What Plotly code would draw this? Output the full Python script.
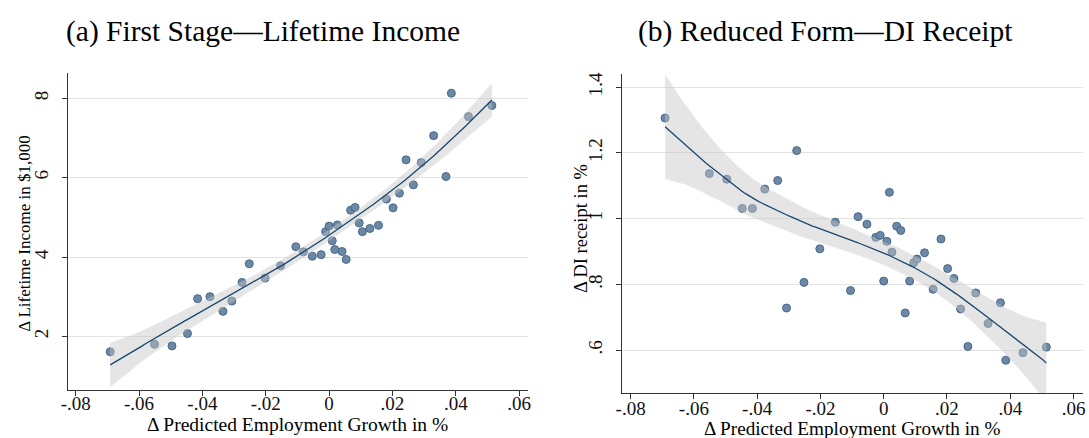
import numpy as np
import plotly.graph_objects as go

# ---------------- data (binned scatter) ----------------
emp_growth = [-0.0691, -0.0551, -0.0496, -0.0447, -0.0415, -0.0376, -0.0335, -0.0307,
              -0.0275, -0.0252, -0.0202, -0.0153, -0.0105, -0.0081, -0.0053, -0.0025,
              -0.0011, 0.0000, 0.0010, 0.0018, 0.0026, 0.0041, 0.0054, 0.0068,
              0.0082, 0.0095, 0.0105, 0.0129, 0.0156, 0.0181, 0.0202, 0.0222,
              0.0243, 0.0266, 0.0291, 0.0330, 0.0369, 0.0386, 0.0440, 0.0514]

lifetime_income = [1.61, 1.80, 1.76, 2.07, 2.95, 3.00, 2.63, 2.89,
                   3.36, 3.83, 3.47, 3.78, 4.26, 4.13, 4.02, 4.06,
                   4.64, 4.78, 4.41, 4.19, 4.81, 4.14, 3.94, 5.18,
                   5.25, 4.86, 4.64, 4.72, 4.80, 5.46, 5.24, 5.61,
                   6.45, 5.82, 6.38, 7.06, 6.03, 8.13, 7.54, 7.82]

di_receipt = [1.306, 1.137, 1.120, 1.031, 1.031, 1.090, 1.116, 0.728,
              1.207, 0.806, 0.908, 0.989, 0.781, 1.006, 0.983, 0.943,
              0.949, 0.810, 0.931, 1.080, 0.898, 0.977, 0.964, 0.713,
              0.810, 0.866, 0.877, 0.896, 0.785, 0.938, 0.848, 0.818,
              0.725, 0.611, 0.774, 0.681, 0.744, 0.569, 0.592, 0.609]

x_ticks = [-0.08, -0.06, -0.04, -0.02, 0, 0.02, 0.04, 0.06]
x_tick_labels = ["-.08", "-.06", "-.04", "-.02", "0", ".02", ".04", ".06"]
y1_ticks = [2, 4, 6, 8]
y1_tick_labels = ["2", "4", "6", "8"]
y2_ticks = [0.6, 0.8, 1.0, 1.2, 1.4]
y2_tick_labels = [".6", ".8", "1", "1.2", "1.4"]

titles = ["(a) First Stage\u2014Lifetime Income", "(b) Reduced Form\u2014DI Receipt"]
x_title = "\u0394 Predicted Employment Growth in %"
y1_title = "\u0394 Lifetime Income in $1,000"
y2_title = "\u0394 DI receipt in %"


# ---------------- local linear smoother with CI ----------------
def local_linear(x, y, h, n_grid=120):
    x = np.asarray(x, float)
    y = np.asarray(y, float)

    def weights_row(x0):
        u = (x - x0) / h
        w = np.where(np.abs(u) < 1, 0.75 * (1 - u ** 2), 0.0)
        X = np.column_stack([np.ones_like(x), x - x0])
        XtW = X.T * w
        A = XtW @ X
        return np.linalg.solve(A, XtW)[0]

    L = np.array([weights_row(v) for v in x])
    resid = y - L @ y
    dof = len(x) - 2 * np.trace(L) + np.trace(L.T @ L)
    sigma2 = np.sum(resid ** 2) / dof
    grid = np.linspace(x.min(), x.max(), n_grid)
    fit, se = [], []
    for g in grid:
        l = weights_row(g)
        fit.append(l @ y)
        se.append(np.sqrt(sigma2 * np.sum(l ** 2)))
    fit = np.array(fit)
    se = np.array(se)
    return grid, fit, fit - 1.96 * se, fit + 1.96 * se


FONT = "Liberation Serif"
MARK_FILL = "#6d88a5"
MARK_LINE = "#47688a"
BAND = "rgba(198,198,198,0.45)"
LINE = "#1a476f"

fig = go.Figure()

panels = [(lifetime_income, "x", "y", 0.065), (di_receipt, "x2", "y2", 0.045)]
for yv, xa, ya, h in panels:
    fig.add_trace(go.Scatter(x=emp_growth, y=yv, mode="markers", xaxis=xa, yaxis=ya,
                             marker=dict(size=8, color=MARK_FILL,
                                         line=dict(color=MARK_LINE, width=1)),
                             showlegend=False, hoverinfo="skip"))
    g, f, lo, hi = local_linear(emp_growth, yv, h)
    fig.add_trace(go.Scatter(x=np.concatenate([g, g[::-1]]), y=np.concatenate([hi, lo[::-1]]),
                             mode="lines", fill="toself", fillcolor=BAND,
                             line=dict(width=0), xaxis=xa, yaxis=ya,
                             showlegend=False, hoverinfo="skip"))
    fig.add_trace(go.Scatter(x=g, y=f, mode="lines", xaxis=xa, yaxis=ya,
                             line=dict(color=LINE, width=1.3),
                             showlegend=False, hoverinfo="skip"))

W, H = 1089, 438

def px_x(p):
    return p / W

def px_y(p):
    return 1 - p / H

def axis_common():
    return dict(showline=True, linecolor="#333333", linewidth=1,
                ticks="outside", ticklen=5, tickcolor="#333333", tickwidth=1,
                tickfont=dict(family=FONT, size=19, color="#111111"),
                zeroline=False)

fig.update_layout(
    width=W, height=H,
    margin=dict(l=0, r=0, t=0, b=0),
    paper_bgcolor="white", plot_bgcolor="white",
    font=dict(family=FONT, color="#111111"),
    xaxis=dict(domain=[px_x(61), px_x(525)], anchor="y", range=[-0.0823, 0.0627],
               tickvals=x_ticks, ticktext=x_tick_labels, showgrid=False,
               ticklabelstandoff=-8, **axis_common()),
    yaxis=dict(domain=[px_y(389.3), px_y(71.7)], anchor="x", range=[0.66, 8.63],
               tickvals=y1_ticks, ticktext=y1_tick_labels, tickangle=-90,
               ticklabelstandoff=7,
               showgrid=True, gridcolor="#e3e3e3", gridwidth=1, **axis_common()),
    xaxis2=dict(domain=[px_x(620), px_x(1086)], anchor="y2", range=[-0.0828, 0.063],
                tickvals=x_ticks, ticktext=x_tick_labels, showgrid=False,
                ticklabelstandoff=-7, **axis_common()),
    yaxis2=dict(domain=[px_y(392.7), px_y(72.7)], anchor="x2", range=[0.4697, 1.439],
                tickvals=y2_ticks, ticktext=y2_tick_labels, tickangle=-90,
                ticklabelstandoff=6,
                showgrid=True, gridcolor="#e3e3e3", gridwidth=1, **axis_common()),
)

def text_ann(text, xp, yp, size, angle=0):
    return dict(text=text, x=px_x(xp), y=px_y(yp), xref="paper", yref="paper",
                showarrow=False, xanchor="center", yanchor="middle", textangle=angle,
                font=dict(family=FONT, size=size, color="#000000"))

ann = [
    text_ann(titles[0], 258, 30, 29.5),
    text_ann(titles[1], 826, 30, 29.5),
    text_ann(x_title, 292, 424, 19.5),
    text_ann(x_title, 853, 428.5, 19.2),
    text_ann(y1_title, 17, 233, 17, -90),
    text_ann(y2_title, 579, 228, 18.5, -90),
]
fig.update_layout(annotations=ann)

fig.write_html("out.html", config={"displayModeBar": False},
               post_script="document.body.style.margin='0';document.body.style.overflow='hidden';")
